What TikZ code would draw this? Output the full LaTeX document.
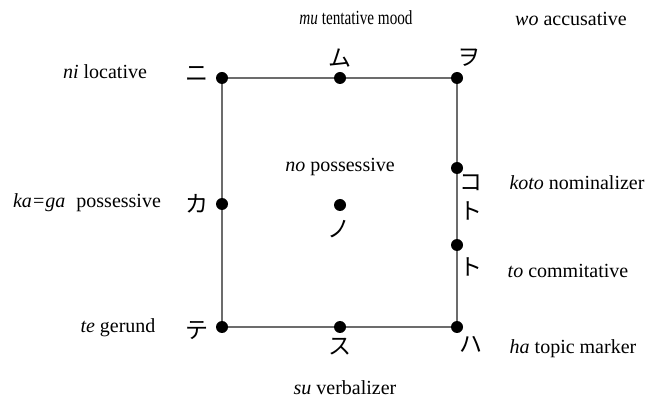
\documentclass[tikz,border=0pt]{standalone}
\usepackage{fontspec}
\setmainfont{Liberation Serif}
\newfontfamily\jpfont{Noto Sans CJK JP}
\begin{document}
\begin{tikzpicture}[x=1pt,y=-1pt,
  dotnode/.style={circle,fill=black,inner sep=0pt,minimum size=12pt},
  edge/.style={draw=gray!85!black,line width=1.4pt},
  kana/.style={font=\jpfont\fontsize{23}{23}\selectfont,inner sep=0pt},
  gloss/.style={font=\fontsize{20}{24}\selectfont,inner sep=0pt}]
\useasboundingbox (0,0) rectangle (648,403);
% dot positions
\coordinate (ni) at (222,78);
\coordinate (mu) at (340,78);
\coordinate (wo) at (457,78);
\coordinate (ka) at (222,204);
\coordinate (no) at (340,205);
\coordinate (koto) at (457,168);
\coordinate (to) at (457,245);
\coordinate (te) at (222,327);
\coordinate (su) at (340,327);
\coordinate (ha) at (457,327);
% edges
\draw[edge] (ni) -- (mu) -- (wo) -- (koto) -- (to) -- (ha) -- (su) -- (te) -- (ka) -- (ni);
% dots
\foreach \p in {ni,mu,wo,ka,no,koto,to,te,su,ha} \node[dotnode] at (\p) {};
% kana
\node[kana] (kni) at (197,74) {ニ};
\node[kana] (kmu) at (340,58) {ム};
\node[kana] (kwo) at (469,58) {ヲ};
\node[kana] (kka) at (197,204) {カ};
\node[kana] (kno) at (339,229) {ノ};
\node[kana] (kko) at (471,183) {コ};
\node[kana] (kto1) at (471,211) {ト};
\node[kana] (kto2) at (471,267) {ト};
\node[kana] (kte) at (197,331) {テ};
\node[kana] (ksu) at (340,347) {ス};
\node[kana] (kha) at (471,344) {ハ};
% glosses
\node[gloss] (gni) at (105,72) {\textit{ni} locative};
\node[gloss] (gmu) at (356,18) {\scalebox{0.76}[1]{\textit{mu} tentative mood}};
\node[gloss] (gwo) at (571,19) {\textit{wo} accusative};
\node[gloss] (gka) at (87,203) {\textit{ka=ga}\hspace{0.3em} possessive};
\node[gloss] (gno) at (340,167) {\textit{no} possessive};
\node[gloss] (gkoto) at (577,183) {\textit{koto} nominalizer};
\node[gloss] (gto) at (568,271) {\textit{to} commitative};
\node[gloss] (gte) at (118,328) {\textit{te} gerund};
\node[gloss] (gsu) at (345,388) {\textit{su} verbalizer};
\node[gloss] (gha) at (573,349) {\textit{ha} topic marker};
\end{tikzpicture}
\end{document}
